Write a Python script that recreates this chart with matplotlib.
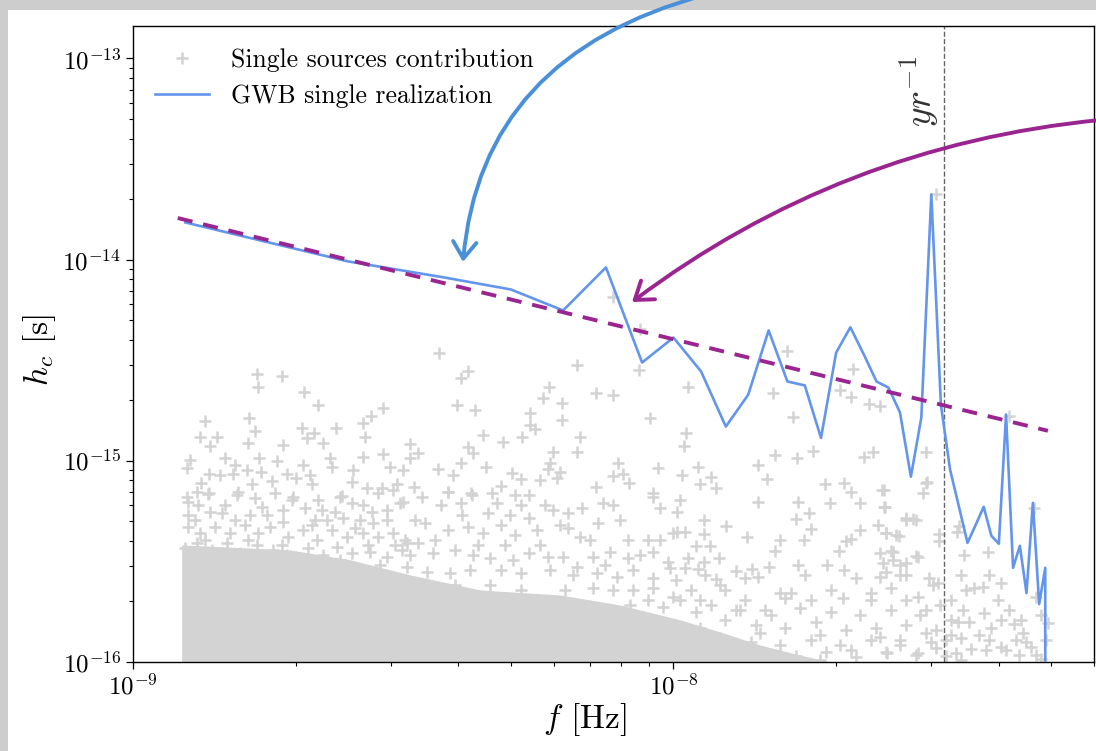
import numpy as np
import matplotlib
matplotlib.use('Agg')
import matplotlib.pyplot as plt
from matplotlib.patches import Rectangle

plt.rcParams['font.family'] = 'cmr10'
plt.rcParams['mathtext.fontset'] = 'cm'
plt.rcParams['axes.unicode_minus'] = False
plt.rcParams['axes.formatter.use_mathtext'] = True

# GWB single realization: frequency bins [nHz] and h_c [1e-15]
gwb_f = [1.25, 2.5, 3.75, 5.0, 6.25, 7.5, 8.75, 10.0, 11.25, 12.5,
         13.75, 15.0, 16.25, 17.5, 18.75, 20.0, 21.25, 22.5, 23.75, 25.0,
         26.25, 27.5, 28.75, 30.0, 31.25, 32.5, 33.75, 35.0, 36.25, 37.5,
         38.75, 40.0, 41.25, 42.5, 43.75, 45.0, 46.25, 47.5, 48.75, 50.0]
gwb_hc = [15.3, 9.8, 8.17, 7.11, 5.59, 9.15, 3.08, 4.10, 2.78, 1.48,
          2.13, 4.45, 2.48, 2.37, 1.30, 3.45, 4.61, 3.38, 2.48, 2.31,
          1.74, 0.834, 1.64, 21.1, 1.90, 0.903, 0.591, 0.391, 0.481, 0.591,
          0.424, 0.387, 1.70, 0.294, 0.378, 0.220, 0.618, 0.194, 0.294, 0.0]

# power law reference (dashed)
pl_f = [1.21e-9, 4.93e-8]
pl_hc = [1.61e-14, 1.41e-15]

f_yr = 1.0 / (365.25 * 86400)

# single sources, log10 f [Hz] and log10 h_c
src_lf = [
    -8.770, -8.724, -8.769, -8.683, -8.657, -8.867, -8.785, -8.774, -8.687, -8.624,
    -8.574, -8.559, -8.537, -8.876, -8.844, -8.857, -8.787, -8.722, -8.678, -8.665,
    -8.648, -8.570, -8.894, -8.830, -8.767, -8.733, -8.685, -8.635, -8.574, -8.537,
    -8.900, -8.811, -8.789, -8.763, -8.715, -8.672, -8.631, -8.593, -8.524, -8.500,
    -8.859, -8.839, -8.815, -8.874, -8.780, -8.743, -8.698, -8.668, -8.594, -8.511,
    -8.881, -8.859, -8.806, -8.737, -8.704, -8.613, -8.567, -8.539, -8.900,
    -8.433, -8.178, -8.380, -8.393, -8.231, -8.241, -8.144, -8.111, -8.206, -8.400,
    -8.367, -8.265, -8.206, -8.043, -8.063, -8.352, -8.315, -8.280, -8.265, -8.256,
    -8.172, -8.487, -8.472, -8.380, -8.370, -8.222, -8.178, -8.487, -8.394, -8.435,
    -8.346, -8.298, -8.228, -8.233, -8.209, -8.102, -8.028, -8.407, -8.283, -8.215,
    -8.111, -8.093, -8.480, -8.418, -8.374, -8.320, -8.246, -8.144, -8.083, -8.037,
    -8.335, -8.268, -8.111, -8.061,
    -7.789, -7.668, -7.974, -7.815, -7.691, -7.672, -7.639, -7.617, -7.778, -7.976,
    -7.981, -7.813, -7.772, -7.741, -7.648, -7.630, -7.533, -7.844, -7.955, -7.985,
    -7.931, -7.826, -7.950, -7.922, -7.720, -7.685, -7.672, -7.615, -7.533, -7.539,
    -7.987, -7.844, -7.769, -7.711, -7.654, -7.611, -7.993, -7.944, -7.902, -7.774,
    -7.750, -7.570, -7.552, -7.993, -7.978, -7.944, -7.863, -7.802, -7.759, -7.746,
    -7.654, -7.622, -7.606, -7.583, -7.509, -7.509, -7.959, -7.933, -7.813, -7.681,
    -7.672, -7.617, -7.598, -7.974, -7.915, -7.944, -7.694, -7.548, -7.978, -7.955,
    -7.885, -7.854, -7.824, -7.769, -7.715, -7.685, -7.580, -7.570, -7.528, -7.922,
    -7.867, -7.843, -7.756, -7.663, -7.617, -7.598, -7.913, -7.802, -7.783, -7.687,
    -7.635, -7.548, -7.519, -8.000,
    -7.611, -7.531, -7.609, -7.570, -7.556, -7.607, -7.589, -7.472, -7.476, -7.594,
    -7.552, -7.463, -7.418, -7.613, -7.593, -7.570, -7.606, -7.580, -7.511, -7.468,
    -7.417, -7.394, -7.444, -7.428, -7.465, -7.426, -7.400, -7.380, -7.474, -7.454,
    -7.370, -7.307, -7.354, -7.468, -7.435, -7.329, -7.333, -7.417, -7.394, -7.348,
    -7.450, -7.361, -7.478, -7.533, -7.580, -7.604, -7.548, -7.515, -7.515, -7.380,
    -7.987, -7.959, -7.931, -7.904, -7.876, -7.848, -7.820, -7.793, -7.765, -7.737,
    -7.709, -7.681, -7.654, -7.626, -7.598, -7.570, -7.543, -7.515, -7.968, -7.941,
    -7.913, -7.885, -7.857, -7.830, -7.802, -7.774, -7.746, -7.718, -7.691, -7.663,
    -7.635, -7.607, -7.580, -7.552, -7.524, -7.496, -7.950, -7.839, -7.728, -7.617,
    -7.506, -7.487, -7.413, -7.385, -7.357, -7.339, -7.320, -7.311,
    -8.898, -8.880, -8.861, -8.807, -8.774, -8.706, -8.681, -8.650, -8.617, -8.594,
    -8.574, -8.546, -8.519, -8.530, -8.506, -8.898, -8.857, -8.835, -8.811, -8.783,
    -8.752, -8.722, -8.669, -8.641, -8.611, -8.580, -8.556, -8.530, -8.898, -8.876,
    -8.848, -8.820, -8.793, -8.769, -8.746, -8.713, -8.685, -8.659, -8.631, -8.604,
    -8.574, -8.546, -8.519, -8.496, -8.904, -8.881, -8.854, -8.826, -8.802, -8.770,
    -8.741, -8.715, -8.676, -8.648, -8.622, -8.594, -8.561, -8.530, -8.502,
    -8.500, -8.465, -8.431, -8.417, -8.394, -8.372, -8.343, -8.326, -8.302, -8.293,
    -8.268, -8.237, -8.222, -8.196, -8.169, -8.130, -8.111, -8.037, -8.024, -8.459,
    -8.418, -8.381, -8.352, -8.320, -8.293, -8.252, -8.196, -8.172, -8.139, -8.085,
    -8.048, -8.000, -8.493, -8.472, -8.444, -8.404, -8.370, -8.339, -8.296, -8.268,
    -8.233, -8.204, -8.178, -8.148, -8.117, -8.085, -8.037, -8.011, -8.493, -8.456,
    -8.413, -8.376, -8.320, -8.283, -8.228, -8.185, -8.141, -8.104, -8.074, -8.037,
    -8.006, -8.037, -8.074, -8.111, -8.148, -8.019, -8.080, -8.048,
    -8.885, -8.830, -8.761, -8.722, -8.657, -8.626, -8.589, -8.557, -8.515, -8.867,
    -8.787, -8.724, -8.663, -8.565, -8.835, -8.761, -8.691, -8.617, -8.543, -8.487,
    -8.478, -8.441, -8.391, -8.361, -8.311, -8.283, -8.246, -8.209, -8.154, -8.126,
    -8.098, -8.061, -8.024, -7.996, -7.968, -7.941, -7.904, -7.867, -7.830, -7.793,
    -7.950, -7.885, -8.404, -8.283, -8.200, -8.450, -8.339,
    -7.487, -7.459, -7.394, -7.367, -7.422, -7.468, -7.329, -7.320, -7.496, -7.533,
    -7.570, -7.635, -7.709, -7.746, -7.672, -7.728, -7.839, -7.950, -7.894, -7.487,
]
src_lh = [
    -14.566, -14.576, -14.631, -14.656, -14.721, -14.800, -14.785, -14.850, -14.835, -14.835,
    -14.810, -14.775, -14.736, -14.880, -14.880, -14.925, -14.910, -14.920, -14.885, -14.860,
    -14.910, -14.880, -14.994, -14.985, -14.985, -15.000, -15.019, -14.985, -14.980, -14.965,
    -15.034, -15.019, -15.044, -15.054, -15.064, -15.069, -15.029, -15.044, -15.029, -15.044,
    -15.064, -15.069, -15.064, -15.109, -15.114, -15.099, -15.084, -15.114, -15.104, -15.114,
    -15.154, -15.159, -15.154, -15.159, -15.179, -15.174, -15.134, -15.134, -15.179,
    -14.462, -14.526, -14.556, -14.586, -14.631, -14.686, -14.661, -14.671, -14.711, -14.721,
    -14.745, -14.760, -14.795, -14.785, -14.551, -14.870, -14.905, -14.880, -14.820, -14.840,
    -14.880, -14.915, -14.960, -14.930, -14.960, -14.955, -14.955, -14.985, -15.009, -15.039,
    -15.029, -15.059, -15.009, -15.039, -15.054, -15.009, -15.034, -15.069, -15.089, -15.084,
    -15.074, -15.064, -15.129, -15.154, -15.159, -15.124, -15.094, -15.129, -15.109, -15.159,
    -15.159, -15.169, -14.188, -14.347,
    -14.452, -14.546, -14.631, -14.661, -14.646, -14.681, -14.716, -14.726, -14.780, -14.860,
    -14.925, -14.970, -14.985, -14.950, -14.980, -14.955, -14.955, -15.019, -15.029, -15.069,
    -15.079, -15.089, -15.114, -15.134, -15.114, -15.109, -15.154, -15.144, -15.109, -15.159,
    -15.194, -15.204, -15.204, -15.209, -15.209, -15.229, -15.254, -15.293, -15.323, -15.288,
    -15.258, -15.293, -15.293, -15.353, -15.353, -15.363, -15.378, -15.393, -15.393, -15.338,
    -15.343, -15.318, -15.358, -15.373, -15.363, -15.398, -15.423, -15.423, -15.448, -15.398,
    -15.388, -15.458, -15.448, -15.483, -15.483, -15.503, -15.448, -15.478, -15.533, -15.538,
    -15.548, -15.538, -15.528, -15.518, -15.518, -15.543, -15.518, -15.568, -15.583, -15.588,
    -15.583, -15.578, -15.568, -15.583, -15.578, -15.632, -15.617, -15.657, -15.657, -15.682,
    -15.657, -15.677, -15.617, -15.677,
    -15.144, -15.104, -15.229, -15.283, -15.288, -15.358, -15.368, -15.323, -15.353, -15.453,
    -15.473, -15.468, -15.453, -15.508, -15.493, -15.508, -15.553, -15.568, -15.607, -15.568,
    -15.568, -15.607, -15.632, -15.627, -15.741, -15.756, -15.692, -15.741, -15.801, -15.801,
    -15.811, -15.806, -15.856, -15.881, -15.866, -15.677, -15.234, -15.891, -15.926, -15.901,
    -15.936, -15.966, -15.956, -15.856, -15.891, -15.956, -15.956, -15.931, -13.675, -14.775,
    -15.692, -15.752, -15.717, -15.791, -15.742, -15.816, -15.767, -15.831, -15.732, -15.801,
    -15.752, -15.841, -15.767, -15.831, -15.742, -15.816, -15.767, -15.841, -15.891, -15.941,
    -15.881, -15.951, -15.901, -15.966, -15.916, -15.971, -15.891, -15.951, -15.916, -15.976,
    -15.891, -15.951, -15.916, -15.966, -15.901, -15.971, -15.831, -15.856, -15.866, -15.876,
    -15.717, -15.791, -15.831, -15.941, -15.791, -15.926, -15.986, -15.891,
    -15.204, -15.219, -15.164, -15.169, -15.184, -15.194, -15.234, -15.244, -15.179, -15.209,
    -15.219, -15.159, -15.144, -15.244, -15.209, -15.268, -15.253, -15.258, -15.293, -15.268,
    -15.268, -15.303, -15.318, -15.293, -15.283, -15.293, -15.308, -15.293, -15.328, -15.358,
    -15.328, -15.358, -15.318, -15.358, -15.328, -15.378, -15.343, -15.393, -15.343, -15.378,
    -15.358, -15.378, -15.358, -15.393, -15.433, -15.408, -15.443, -15.408, -15.458, -15.418,
    -15.443, -15.468, -15.433, -15.468, -15.428, -15.458, -15.453, -15.478, -15.443,
    -15.204, -15.179, -15.219, -15.154, -15.209, -15.169, -15.258, -15.209, -15.268, -15.169,
    -15.283, -15.219, -15.244, -15.258, -15.234, -15.209, -15.219, -15.179, -15.234, -15.308,
    -15.343, -15.328, -15.358, -15.318, -15.368, -15.343, -15.333, -15.378, -15.308, -15.393,
    -15.393, -15.358, -15.408, -15.408, -15.458, -15.443, -15.468, -15.483, -15.493, -15.458,
    -15.478, -15.478, -15.528, -15.478, -15.453, -15.483, -15.453, -15.503, -15.528, -15.553,
    -15.558, -15.543, -15.543, -15.558, -15.543, -15.568, -15.558, -15.578, -15.543, -15.583,
    -15.533, -15.632, -15.642, -15.642, -15.632, -15.727, -15.717, -15.692,
    -15.293, -15.219, -15.229, -15.243, -15.194, -15.253, -15.333, -15.253, -15.418, -15.393,
    -15.393, -15.418, -15.293, -15.418, -15.483, -15.483, -15.483, -15.492, -15.517, -15.468,
    -15.293, -15.393, -15.268, -15.418, -15.418, -15.219, -15.418, -15.318, -15.393, -15.517,
    -15.293, -15.468, -15.393, -15.592, -15.642, -15.567, -15.642, -15.692, -15.741, -15.682,
    -15.692, -15.741, -15.617, -15.642, -15.642, -15.642, -15.617,
    -15.692, -15.642, -15.791, -15.891, -15.941, -15.990, -15.966, -15.766, -15.891, -15.741,
    -15.692, -15.692, -15.642, -15.692, -15.941, -15.990, -15.990, -15.966, -15.990, -15.866,
]

# upper edge of the saturated cloud of sources (log10 f, log10 h_c)
core_lf = [-8.910, -8.709, -8.598, -8.487, -8.357, -8.209, -8.098, -7.987, -7.913, -7.839,
           -7.765, -7.709]
core_lh = [-15.418, -15.443, -15.492, -15.567, -15.642, -15.667, -15.717, -15.791, -15.851,
           -15.916, -15.966, -16.0]

W, H = 1096, 751
fig = plt.figure(figsize=(W / 100, H / 100), dpi=100)
fig.patch.set_facecolor('#cdcdcd')
fig.add_artist(Rectangle((8 / W, 0), 1, (H - 10) / H, transform=fig.transFigure,
                         facecolor='white', edgecolor='none', zorder=0))

ax = fig.add_axes([133 / W, 1 - 662 / H, (1094 - 133) / W, (662 - 26) / H])
ax.set_xscale('log')
ax.set_yscale('log')

gray = '#d3d3d3'
ax.fill_between(10 ** np.array(core_lf), 1e-17, 10 ** np.array(core_lh),
                color=gray, lw=0, zorder=1)
ax.plot(10 ** np.array(src_lf), 10 ** np.array(src_lh), '+', ls='none', color=gray,
        ms=9, mew=1.8, zorder=1, label='Single sources contribution')

ax.plot(np.array(gwb_f) * 1e-9, np.array(gwb_hc) * 1e-15, color='cornflowerblue',
        lw=1.9, zorder=3, label='GWB single realization')
ax.plot(pl_f, pl_hc, color='#9b2590', lw=2.8, dashes=(3.9, 2.8), zorder=4)

ax.axvline(f_yr, color='#666666', ls='--', lw=1.0, zorder=2)
ax.text(f_yr * 0.985, 0.953, r'$yr^{-1}$', transform=ax.get_xaxis_transform(),
        rotation=90, ha='right', va='top', fontsize=27, color='#333333')

ax.set_xlim(1e-9, 6.0e-8)
ax.set_ylim(1e-16, 1.45e-13)

ax.set_xlabel(r'$f$ [Hz]', fontsize=24)
ax.set_ylabel(r'$h_c$ [s]', fontsize=24)
ax.xaxis.set_label_coords((585 - 133) / 961, -0.062)
ax.yaxis.set_label_coords(-0.078, 0.49)

ax.tick_params(which='major', length=5, width=0.9, labelsize=18)
ax.tick_params(which='minor', length=3, width=0.8)
for s in ax.spines.values():
    s.set_linewidth(1.0)

ax.legend(loc='upper left', fontsize=18.5, frameon=False, handlelength=2.1,
          handletextpad=0.85, borderaxespad=0.45, labelspacing=0.48, numpoints=1)

# annotation arrows coming from outside the plot
ax.annotate('', xy=(463, H - 262), xytext=(705, H + 5), xycoords='figure pixels',
            textcoords='figure pixels', annotation_clip=False,
            arrowprops=dict(arrowstyle='->,head_length=0.6,head_width=0.42',
                            mutation_scale=20, connectionstyle='angle3,angleA=15,angleB=85',
                            color='#4a90d9', lw=2.8, shrinkA=0, shrinkB=0), zorder=10)
ax.annotate('', xy=(632, H - 302), xytext=(1100, H - 120), xycoords='figure pixels',
            textcoords='figure pixels', annotation_clip=False,
            arrowprops=dict(arrowstyle='->,head_length=0.6,head_width=0.42',
                            mutation_scale=20, connectionstyle='arc3,rad=0.14',
                            color='#9b2590', lw=2.8, shrinkA=0, shrinkB=0), zorder=10)

fig.savefig('out.png', dpi=100, facecolor=fig.get_facecolor())
